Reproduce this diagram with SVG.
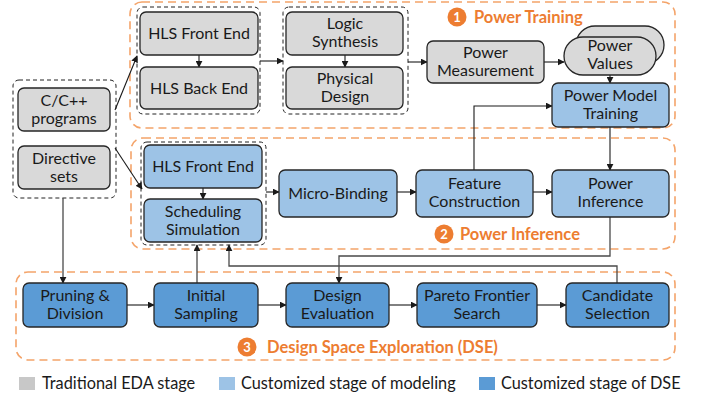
<svg xmlns="http://www.w3.org/2000/svg" width="707" height="399" viewBox="0 0 707 399">
  <style>
    .stage { fill: none; stroke: #F4A46A; stroke-width: 1.6; stroke-dasharray: 8 5; }
    .group { fill: none; stroke: #222; stroke-width: 1; stroke-dasharray: 4 3; }
    .node { stroke: #262626; stroke-width: 1.3; }
    .eda { fill: #D9D9D9; }
    .model { fill: #9DC3E6; }
    .dse { fill: #5B9BD5; }
    .lbl { font-family: Lato, "Liberation Sans", sans-serif; font-size: 16px; fill: #1a1a1a; text-anchor: middle; }
    .title { font-family: Lato, "Liberation Sans", sans-serif; font-size: 16.5px; font-weight: bold; fill: #ED7D31; }
    .num { font-family: Lato, "Liberation Sans", sans-serif; font-size: 13px; font-weight: bold; fill: #fff; text-anchor: middle; }
    .leg { font-family: Lato, "Liberation Sans", sans-serif; font-size: 16.3px; fill: #1a1a1a; }
    .wire { fill: none; stroke: #1a1a1a; stroke-width: 1.1; }
    .wire2 { fill: none; stroke: #4a4a4a; stroke-width: 1.3; }
  </style>
  <defs>
    <marker id="arr" viewBox="0 0 10 10" refX="9" refY="5" markerWidth="7" markerHeight="7" orient="auto" markerUnits="userSpaceOnUse">
      <path d="M0,0 L10,5 L0,10 z" fill="#1a1a1a"/>
    </marker>
  </defs>

  <!-- stage frames -->
  <g id="stages">
    <rect class="stage" x="130" y="2" width="545" height="126" rx="12"/>
    <rect class="stage" x="131" y="138" width="544" height="111" rx="12"/>
    <rect class="stage" x="16" y="272" width="659" height="88" rx="12"/>
    <circle cx="457" cy="17" r="9.5" fill="#ED7D31"/>
    <text class="num" x="457" y="21.7">1</text>
    <text class="title" x="474" y="22.5">Power Training</text>
    <circle cx="444" cy="234" r="9.5" fill="#ED7D31"/>
    <text class="num" x="444" y="238.7">2</text>
    <text class="title" x="460" y="239.5">Power Inference</text>
    <circle cx="247" cy="347" r="9.5" fill="#ED7D31"/>
    <text class="num" x="247" y="351.7">3</text>
    <text class="title" x="267" y="352.5">Design Space Exploration (DSE)</text>
  </g>

  <!-- dashed groupings -->
  <g id="groups">
    <rect class="group" x="13" y="80" width="103" height="118" rx="6"/>
    <rect class="group" x="137" y="7" width="123" height="107" rx="6"/>
    <rect class="group" x="283" y="7" width="125" height="107" rx="6"/>
    <rect class="group" x="141" y="142" width="125" height="103" rx="6"/>
  </g>

  <!-- connectors -->
  <g id="connectors">
    <line class="wire" x1="115" y1="110" x2="137" y2="56" marker-end="url(#arr)"/>
    <line class="wire" x1="115" y1="148" x2="142" y2="189" marker-end="url(#arr)"/>
    <line class="wire" x1="199" y1="55" x2="199" y2="67" marker-end="url(#arr)"/>
    <line class="wire" x1="260" y1="61" x2="283" y2="61" marker-end="url(#arr)"/>
    <line class="wire" x1="345" y1="55" x2="345" y2="67" marker-end="url(#arr)"/>
    <line class="wire" x1="408" y1="62" x2="427" y2="62" marker-end="url(#arr)"/>
    <line class="wire" x1="544" y1="62" x2="564" y2="62" marker-end="url(#arr)"/>
    <line class="wire" x1="610" y1="75" x2="610" y2="83" marker-end="url(#arr)"/>
    <polyline class="wire" points="474,170 474,106 552,106" marker-end="url(#arr)"/>
    <line class="wire" x1="610" y1="127" x2="610" y2="170" marker-end="url(#arr)"/>
    <line class="wire" x1="203" y1="188" x2="203" y2="199" marker-end="url(#arr)"/>
    <line class="wire" x1="266" y1="192" x2="279" y2="192" marker-end="url(#arr)"/>
    <line class="wire" x1="397" y1="192" x2="416" y2="192" marker-end="url(#arr)"/>
    <line class="wire" x1="533" y1="192" x2="552" y2="192" marker-end="url(#arr)"/>
    <polyline class="wire2" points="610,217 610,256 339,256 339,283" marker-end="url(#arr)"/>
    <polyline class="wire2" points="617,283 617,266 229,266 229,245" marker-end="url(#arr)"/>
    <line class="wire2" x1="197" y1="283" x2="197" y2="245" marker-end="url(#arr)"/>
    <line class="wire2" x1="63" y1="198" x2="63" y2="283" marker-end="url(#arr)"/>
    <line class="wire" x1="127" y1="305" x2="154" y2="305" marker-end="url(#arr)"/>
    <line class="wire" x1="258" y1="305" x2="286" y2="305" marker-end="url(#arr)"/>
    <line class="wire" x1="389" y1="305" x2="417" y2="305" marker-end="url(#arr)"/>
    <line class="wire" x1="537" y1="305" x2="566" y2="305" marker-end="url(#arr)"/>
  </g>

  <!-- inputs -->
  <g id="cpp">
    <rect class="node eda" x="18" y="88" width="92" height="43" rx="6"/>
    <text class="lbl" x="64" y="106">C/C++</text>
    <text class="lbl" x="64" y="124">programs</text>
  </g>
  <g id="directives">
    <rect class="node eda" x="18" y="146" width="92" height="43" rx="6"/>
    <text class="lbl" x="64" y="164">Directive</text>
    <text class="lbl" x="64" y="182">sets</text>
  </g>

  <!-- power training -->
  <g id="hls-fe-train">
    <rect class="node eda" x="140" y="12" width="118" height="43" rx="6"/>
    <text class="lbl" x="199" y="38.5">HLS Front End</text>
  </g>
  <g id="hls-be">
    <rect class="node eda" x="140" y="67" width="118" height="42" rx="6"/>
    <text class="lbl" x="199" y="93.5">HLS Back End</text>
  </g>
  <g id="logic-synth">
    <rect class="node eda" x="286" y="12" width="117" height="43" rx="6"/>
    <text class="lbl" x="345" y="29">Logic</text>
    <text class="lbl" x="345" y="47">Synthesis</text>
  </g>
  <g id="phys-design">
    <rect class="node eda" x="286" y="67" width="117" height="42" rx="6"/>
    <text class="lbl" x="345" y="84">Physical</text>
    <text class="lbl" x="345" y="102">Design</text>
  </g>
  <g id="power-meas">
    <rect class="node eda" x="427" y="41" width="117" height="42" rx="6"/>
    <text class="lbl" x="485.5" y="58">Power</text>
    <text class="lbl" x="485.5" y="76">Measurement</text>
  </g>
  <g id="power-values">
    <rect class="node eda" x="576" y="26" width="88" height="38" rx="19"/>
    <rect class="node eda" x="564" y="37" width="92" height="38" rx="19"/>
    <text class="lbl" x="610" y="51">Power</text>
    <text class="lbl" x="610" y="69">Values</text>
  </g>
  <g id="pm-training">
    <rect class="node model" x="552" y="83" width="117" height="44" rx="6"/>
    <text class="lbl" x="610.5" y="101">Power Model</text>
    <text class="lbl" x="610.5" y="119">Training</text>
  </g>

  <!-- power inference -->
  <g id="hls-fe-inf">
    <rect class="node model" x="144" y="145" width="118" height="43" rx="6"/>
    <text class="lbl" x="203" y="171.5">HLS Front End</text>
  </g>
  <g id="sched-sim">
    <rect class="node model" x="144" y="199" width="118" height="43" rx="6"/>
    <text class="lbl" x="203" y="217">Scheduling</text>
    <text class="lbl" x="203" y="235">Simulation</text>
  </g>
  <g id="micro-binding">
    <rect class="node model" x="279" y="170" width="118" height="47" rx="6"/>
    <text class="lbl" x="338" y="198.5">Micro-Binding</text>
  </g>
  <g id="feature-constr">
    <rect class="node model" x="416" y="170" width="117" height="47" rx="6"/>
    <text class="lbl" x="474.5" y="189">Feature</text>
    <text class="lbl" x="474.5" y="207">Construction</text>
  </g>
  <g id="power-inf">
    <rect class="node model" x="552" y="170" width="117" height="47" rx="6"/>
    <text class="lbl" x="610.5" y="189">Power</text>
    <text class="lbl" x="610.5" y="207">Inference</text>
  </g>

  <!-- design space exploration -->
  <g id="pruning">
    <rect class="node dse" x="23" y="283" width="104" height="44" rx="6"/>
    <text class="lbl" x="75" y="301">Pruning &amp;</text>
    <text class="lbl" x="75" y="319">Division</text>
  </g>
  <g id="init-sampling">
    <rect class="node dse" x="154" y="283" width="104" height="44" rx="6"/>
    <text class="lbl" x="206" y="301">Initial</text>
    <text class="lbl" x="206" y="319">Sampling</text>
  </g>
  <g id="design-eval">
    <rect class="node dse" x="286" y="283" width="103" height="44" rx="6"/>
    <text class="lbl" x="337.5" y="301">Design</text>
    <text class="lbl" x="337.5" y="319">Evaluation</text>
  </g>
  <g id="pareto">
    <rect class="node dse" x="417" y="283" width="120" height="44" rx="6"/>
    <text class="lbl" x="477" y="301">Pareto Frontier</text>
    <text class="lbl" x="477" y="319">Search</text>
  </g>
  <g id="candidate">
    <rect class="node dse" x="566" y="283" width="103" height="44" rx="6"/>
    <text class="lbl" x="617.5" y="301">Candidate</text>
    <text class="lbl" x="617.5" y="319">Selection</text>
  </g>

  <!-- legend -->
  <g id="legend">
    <rect x="19" y="377" width="16" height="13" fill="#C8C8C8"/>
    <text class="leg" x="42" y="389">Traditional EDA stage</text>
    <rect x="219" y="377" width="16" height="13" fill="#9DC3E6"/>
    <text class="leg" x="241" y="389">Customized stage of modeling</text>
    <rect x="479" y="377" width="16" height="13" fill="#5B9BD5"/>
    <text class="leg" x="501" y="389">Customized stage of DSE</text>
  </g>
</svg>
